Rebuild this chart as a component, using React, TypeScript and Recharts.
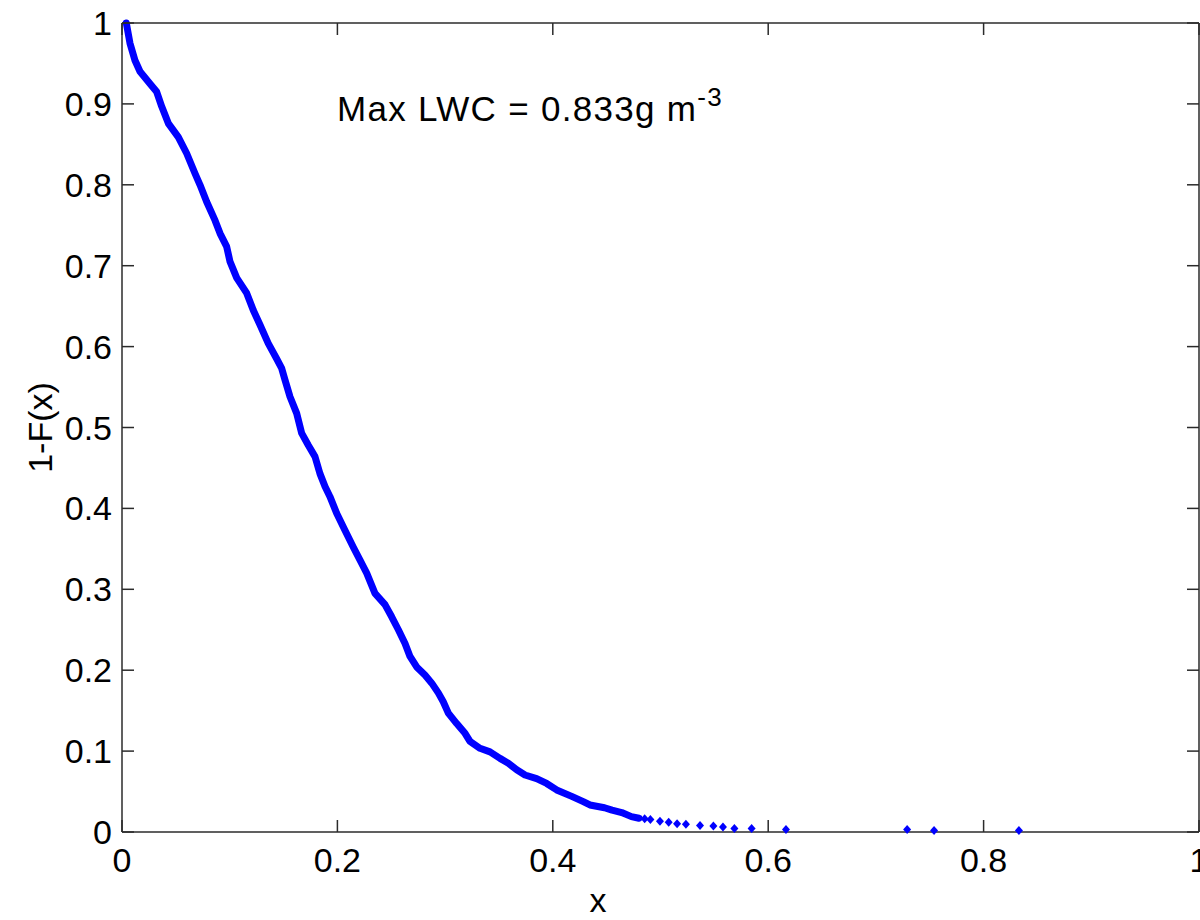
import * as React from "react"
import { ComposedChart, Line, Scatter, XAxis, YAxis, Label } from "recharts"

// ── Data ───────────────────────────────────────────────────────
const X_TICKS = [0, 0.2, 0.4, 0.6, 0.8, 1]
const Y_TICKS = [0, 0.1, 0.2, 0.3, 0.4, 0.5, 0.6, 0.7, 0.8, 0.9, 1]

// dense part of the survival curve (drawn as a thick band)
const CURVE_X = [
  0.004, 0.0074, 0.012, 0.0167, 0.026, 0.0322, 0.0368, 0.043, 0.0523, 0.06,
  0.0678, 0.0724, 0.0786, 0.0864, 0.091, 0.0972, 0.1003, 0.1065, 0.1158, 0.1219,
  0.1281, 0.1358, 0.1436, 0.1483, 0.1513, 0.156, 0.1622, 0.1668, 0.173, 0.1792,
  0.1838, 0.1885, 0.1931, 0.1993, 0.207, 0.2148, 0.221, 0.2272, 0.2349, 0.2442,
  0.2504, 0.2566, 0.2628, 0.2674, 0.2736, 0.2813, 0.2876, 0.2937, 0.2983, 0.303,
  0.3108, 0.3185, 0.3231, 0.3324, 0.3417, 0.351, 0.3587, 0.3665, 0.3742, 0.385,
  0.3943, 0.4036, 0.4176, 0.4283, 0.4345, 0.448, 0.455, 0.464, 0.473, 0.48,
]
const CURVE_Y = [
  1.0, 0.975, 0.954, 0.94, 0.925, 0.915, 0.897, 0.876, 0.859, 0.839,
  0.814, 0.8, 0.779, 0.756, 0.74, 0.7235, 0.705, 0.685, 0.666, 0.645,
  0.627, 0.604, 0.585, 0.573, 0.559, 0.538, 0.5175, 0.493, 0.478, 0.464,
  0.443, 0.427, 0.4145, 0.394, 0.373, 0.352, 0.336, 0.32, 0.295, 0.281,
  0.266, 0.25, 0.233, 0.217, 0.204, 0.194, 0.184, 0.172, 0.161, 0.147,
  0.134, 0.122, 0.112, 0.1035, 0.099, 0.091, 0.085, 0.077, 0.0705, 0.066,
  0.06, 0.052, 0.044, 0.0375, 0.0334, 0.03, 0.027, 0.024, 0.019, 0.017,
]

// sparse tail, individual markers
const TAIL_X = [
  0.4853, 0.4906, 0.4995, 0.5076, 0.5154, 0.5236, 0.5367, 0.5491, 0.558, 0.5686,
  0.5846, 0.6165, 0.729, 0.754, 0.8328,
]
const TAIL_Y = [
  0.0163, 0.0155, 0.0132, 0.0119, 0.0101, 0.0097, 0.0079, 0.0075, 0.0062, 0.0044,
  0.0044, 0.003, 0.003, 0.0018, 0.0018,
]

const BLUE = "#0000FF"
const AXIS_COLOUR = "#2b2b2b"
const FONT = "'Liberation Sans', Arial, sans-serif"
const TICK = { fontFamily: FONT, fontSize: 34, fill: "#000" }
const AXIS_LINE = { stroke: AXIS_COLOUR, strokeWidth: 1.5 }

const curve = CURVE_X.map((x, i) => ({ x, y: CURVE_Y[i] }))
const tail = TAIL_X.map((x, i) => ({ x, y: TAIL_Y[i] }))

const fmt = (v: number) => String(Math.round(v * 10) / 10)

const Diamond = (props: any) => {
  const { cx, cy } = props
  return <path d={`M${cx},${cy - 4.5}L${cx + 4},${cy}L${cx},${cy + 4.5}L${cx - 4},${cy}Z`} fill={BLUE} />
}

export default function App() {
  return (
    <div style={{ position: "absolute", left: 0, top: 0, width: 1200, height: 920, background: "#fff", overflow: "hidden" }}>
      <ComposedChart width={1200} height={920} margin={{ top: 22, right: 0, bottom: 0, left: 0 }}>
        <XAxis
          type="number"
          dataKey="x"
          domain={[0, 1]}
          ticks={X_TICKS}
          interval={0}
          tickFormatter={fmt}
          tick={TICK}
          tickSize={-12}
          tickMargin={28}
          tickLine={AXIS_LINE}
          axisLine={AXIS_LINE}
          height={88}
        >
          <Label
            content={(p: any) => {
              const vb = p.viewBox || {}
              return (
                <text x={vb.x + 476} y={vb.y + 80} textAnchor="middle" fontFamily={FONT} fontSize={34} fill="#000">
                  x
                </text>
              )
            }}
          />
        </XAxis>
        {/* mirrored top axis: box edge + inward ticks, no labels */}
        <XAxis
          xAxisId="top"
          orientation="top"
          type="number"
          dataKey="x"
          domain={[0, 1]}
          ticks={X_TICKS}
          interval={0}
          tick={{ fontSize: 1, fill: "none" }}
          tickFormatter={() => ""}
          tickSize={-12}
          tickLine={AXIS_LINE}
          axisLine={AXIS_LINE}
          height={1}
        />
        <YAxis
          type="number"
          domain={[0, 1]}
          ticks={Y_TICKS}
          interval={0}
          tickFormatter={fmt}
          tick={TICK}
          tickSize={-12}
          tickMargin={22}
          tickLine={AXIS_LINE}
          axisLine={AXIS_LINE}
          width={122}
        >
          <Label
            content={(p: any) => {
              const vb = p.viewBox || {}
              const cx = vb.x + 40
              const cy = vb.y + vb.height / 2
              return (
                <text x={cx} y={cy} transform={`rotate(-90 ${cx} ${cy})`} textAnchor="middle" dominantBaseline="central" fontFamily={FONT} fontSize={34} fill="#000">
                  1-F(x)
                </text>
              )
            }}
          />
        </YAxis>
        {/* mirrored right axis */}
        <YAxis
          yAxisId="right"
          orientation="right"
          type="number"
          domain={[0, 1]}
          ticks={Y_TICKS}
          interval={0}
          tick={{ fontSize: 1, fill: "none" }}
          tickFormatter={() => ""}
          tickSize={-12}
          tickLine={AXIS_LINE}
          axisLine={AXIS_LINE}
          width={1}
        />
        <Line
          data={curve}
          dataKey="y"
          type="linear"
          stroke={BLUE}
          strokeWidth={7}
          strokeLinejoin="round"
          strokeLinecap="round"
          dot={false}
          activeDot={false}
          isAnimationActive={false}
        />
        {/* tail markers use the mirrored axes (same domain, same plot box) */}
        <Scatter
          data={tail}
          dataKey="y"
          xAxisId="top"
          yAxisId="right"
          shape={Diamond}
          isAnimationActive={false}
        />
      </ComposedChart>
      <div style={{
        position: "absolute",
        left: 337,
        top: 91,
        fontFamily: FONT,
        fontSize: 35,
        letterSpacing: 1.3,
        lineHeight: "35px",
        whiteSpace: "nowrap",
        color: "#000",
      }}>
        Max LWC = 0.833g m<span style={{ fontSize: 26, position: "relative", top: -15 }}>-3</span>
      </div>
    </div>
  )
}
